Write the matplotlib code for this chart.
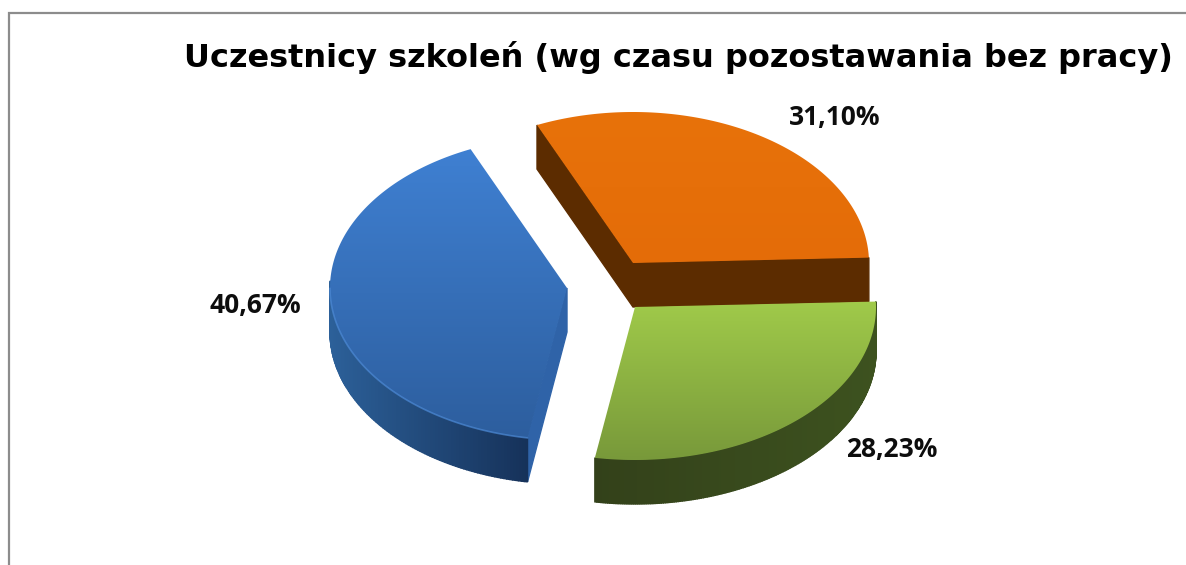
import matplotlib
matplotlib.use('Agg')
import matplotlib.pyplot as plt
import numpy as np
from matplotlib.patches import Polygon
from matplotlib.colors import LinearSegmentedColormap, to_rgb

title = 'Uczestnicy szkoleń (wg czasu pozostawania bez pracy)'
shares = [31.10, 28.23, 40.67]
labels = ['31,10%', '28,23%', '40,67%']

# pie geometry in pixels
centers = [(633, 263), (635, 307), (567, 288)]
radii = [(236, 151), (241, 153), (237, 152)]
depth = 44
first_angle = 114.0
label_pos = [(835, 118), (892, 450), (255, 305)]

top_colors = [('#e8720a', '#e46c08'), ('#a0ca4a', '#78993a'), ('#3f80d2', '#2d5e9e')]
wall_colors = [('#5c2c00', '#5c2c00'), ('#33411a', '#3d521f'), ('#2c6099', '#16325a')]
cut_colors = ['#5c2c00', '#33411a', '#2f63a8']

fig = plt.figure(figsize=(11.86, 5.65), dpi=100)
ax = fig.add_axes([0, 0, 1, 1])
ax.set_xlim(0, 1186)
ax.set_ylim(565, 0)
ax.axis('off')

# frame, only top and left are in view
ax.plot([9, 9, 1186], [565, 13, 13], color='#8c8c8c', lw=1.6, solid_joinstyle='miter')


def mix(c1, c2, t):
    a = np.array(to_rgb(c1))
    b = np.array(to_rgb(c2))
    return a + (b - a) * t


def quad(p, q, color):
    pts = [p, q, (q[0], q[1] + depth), (p[0], p[1] + depth)]
    ax.add_patch(Polygon(pts, closed=True, fc=color, ec=color, lw=1.0, zorder=2))


start = first_angle
for i in range(len(shares)):
    sweep = shares[i] / sum(shares) * 360
    end = start - sweep
    cx, cy = centers[i]
    rx, ry = radii[i]
    t = np.radians(np.linspace(start, end, 200))
    xs = cx + rx * np.cos(t)
    ys = cy - ry * np.sin(t)

    # side walls, flat cut faces first
    if i == 0:
        # both cut faces show on the orange slice
        quad((cx, cy), (xs[0], ys[0]), cut_colors[i])
        quad((cx, cy), (xs[-1], ys[-1]), cut_colors[i])
    if i == 2:
        quad((cx, cy), (xs[0], ys[0]), cut_colors[i])

    # outer wall, only the part facing us
    x0, x1 = xs.min(), xs.max()
    if i != 0:
        for k in range(0, len(t) - 1):
            if np.sin(t[k]) < 0.05 and np.sin(t[k + 1]) < 0.05:
                c = mix(wall_colors[i][0], wall_colors[i][1], (xs[k] - x0) / (x1 - x0))
                quad((xs[k], ys[k]), (xs[k + 1], ys[k + 1]), c)

    # top face with a vertical gradient
    px = np.r_[cx, xs]
    py = np.r_[cy, ys]
    poly = Polygon(np.column_stack([px, py]), closed=True, fc='none', ec='none', zorder=3)
    ax.add_patch(poly)
    cmap = LinearSegmentedColormap.from_list('top%d' % i, top_colors[i])
    grad = np.linspace(0, 1, 256).reshape(-1, 1)
    im = ax.imshow(grad, cmap=cmap, extent=(px.min(), px.max(), py.max(), py.min()),
                   aspect='auto', zorder=3, interpolation='bilinear')
    im.set_clip_path(poly)

    # light rim on the front of the blue slice
    if i == 2:
        mask = np.sin(t) < 0
        ax.plot(xs[mask], ys[mask], color='#4d8ad6', lw=1.2, alpha=0.7, zorder=4)

    ax.text(label_pos[i][0], label_pos[i][1], labels[i], family='Open Sans', weight='bold',
            fontsize=19, color='#0d0d0d', ha='center', va='center', zorder=5)
    start = end

ax.set_xlim(0, 1186)
ax.set_ylim(565, 0)
ax.text(678, 57, title, family='DejaVu Sans', weight='bold', fontsize=23,
        color='black', ha='center', va='center', zorder=5)

fig.savefig('out.png', dpi=100)
